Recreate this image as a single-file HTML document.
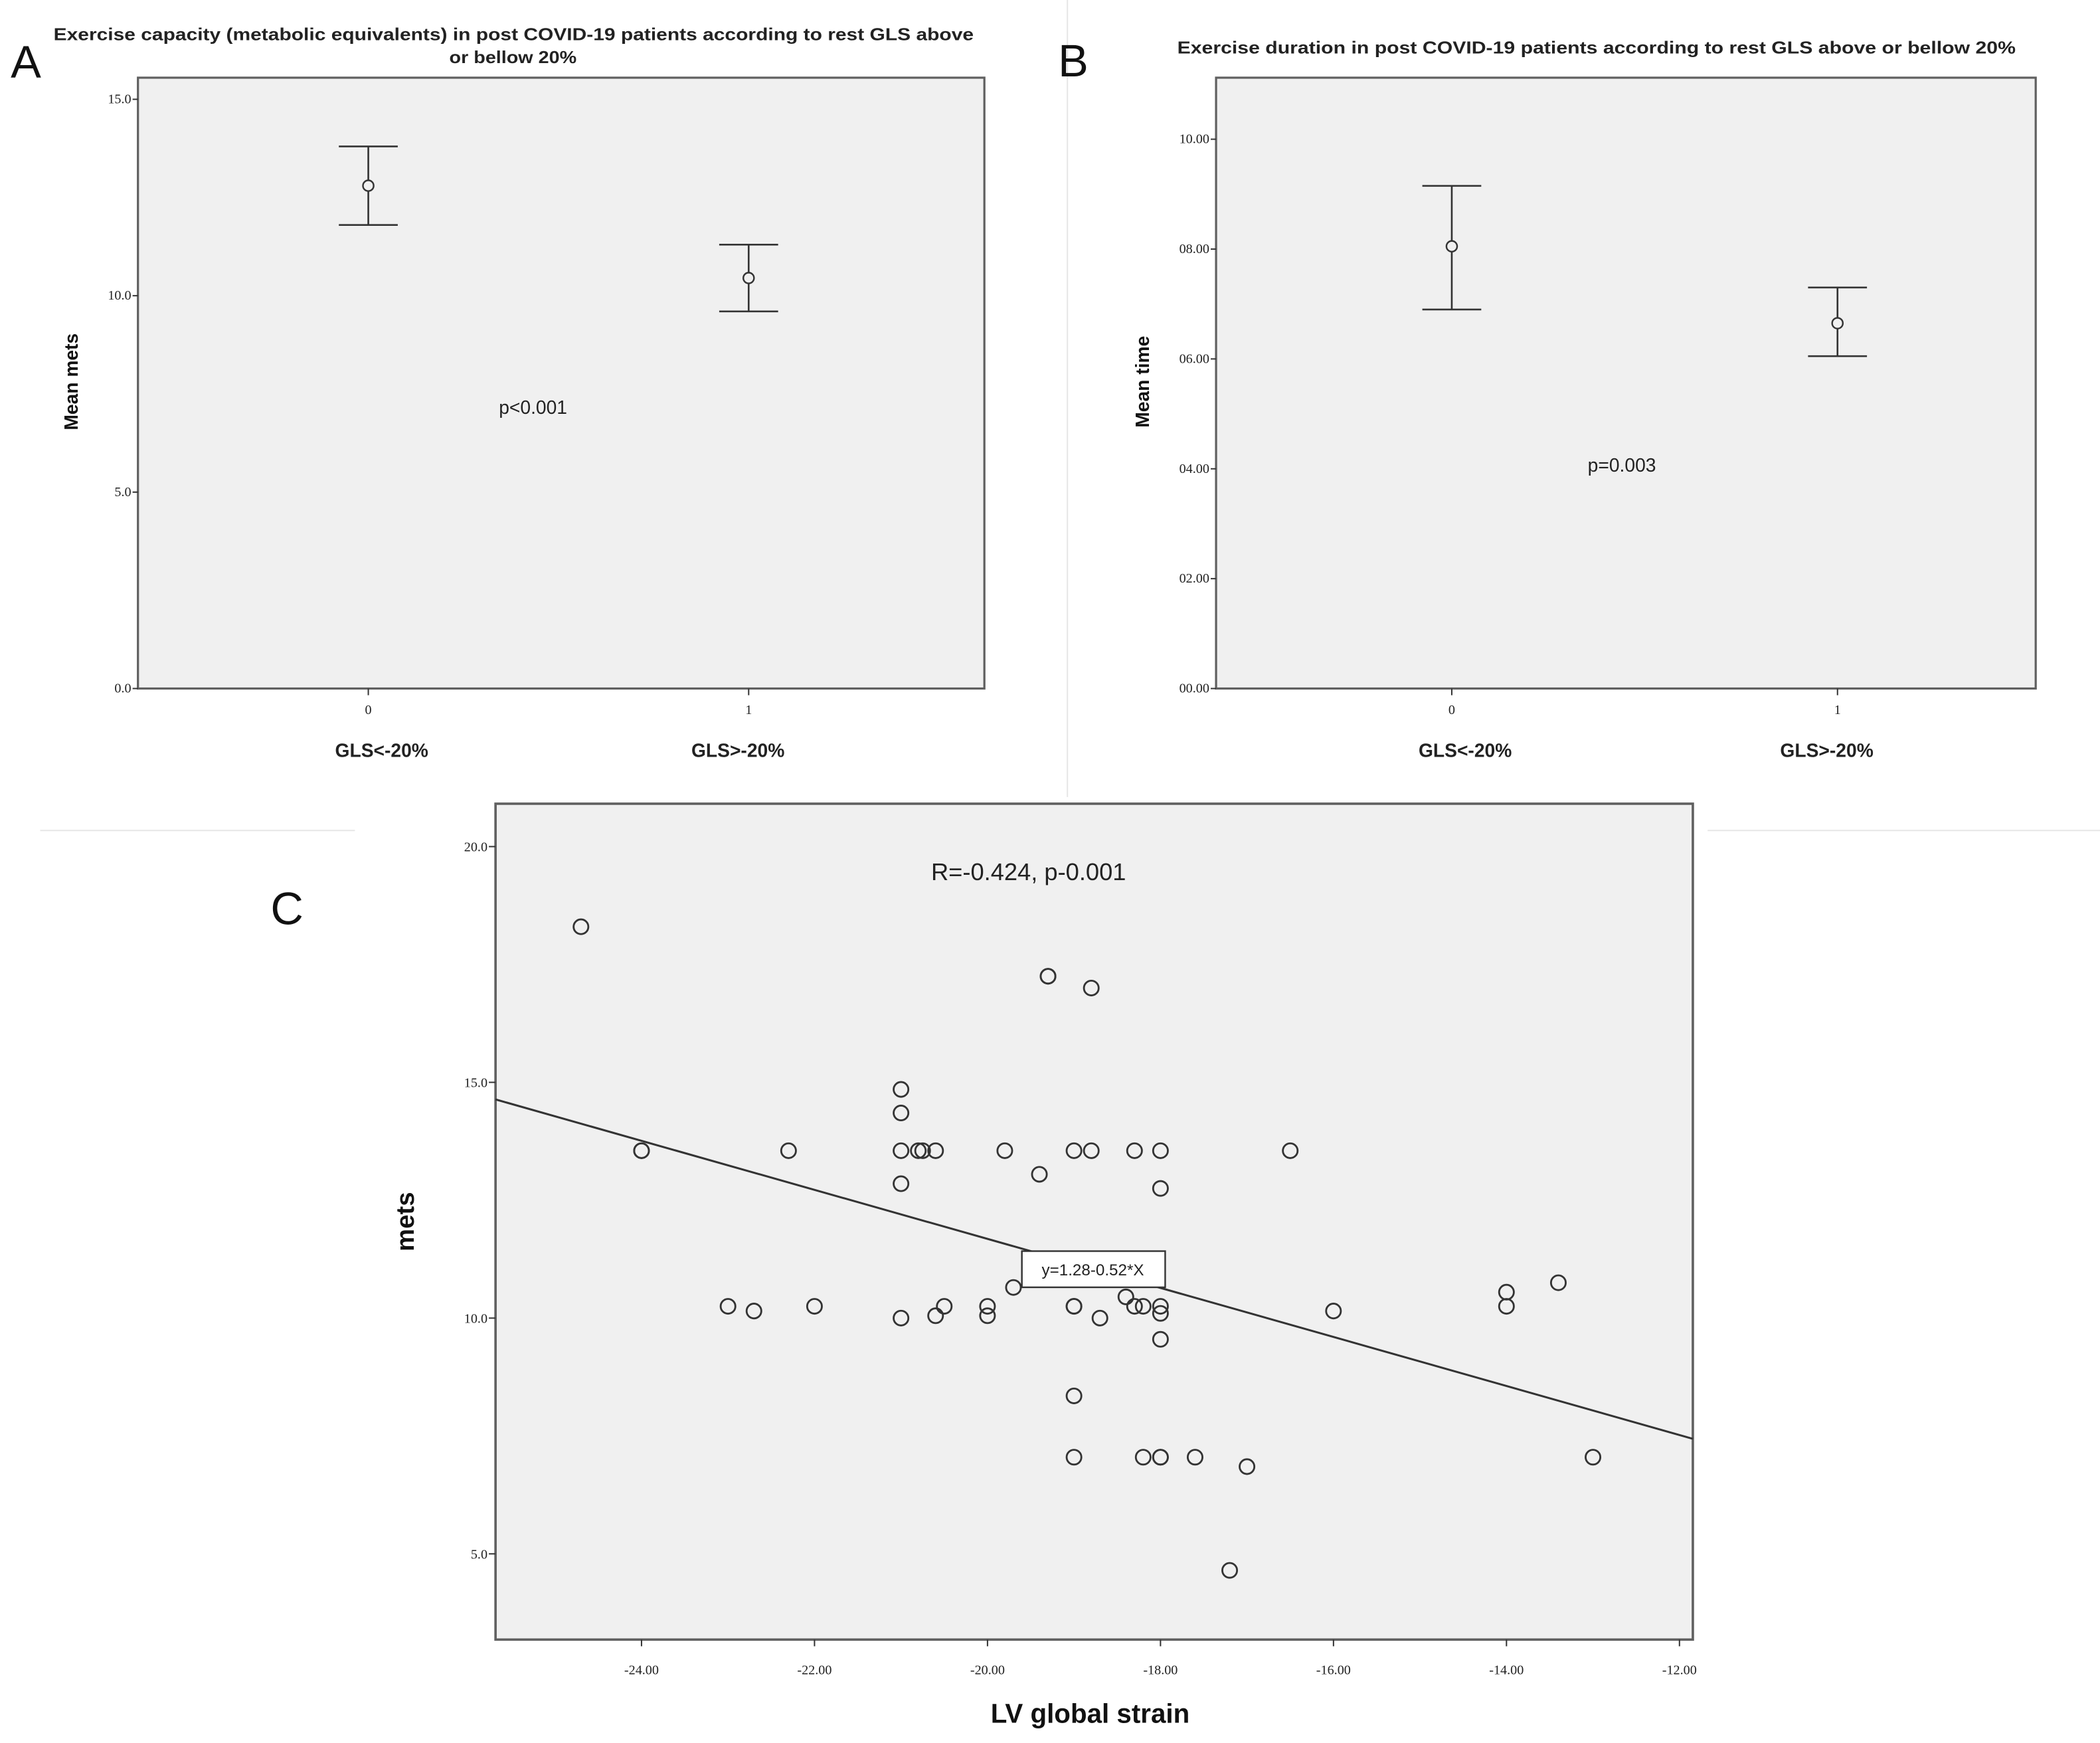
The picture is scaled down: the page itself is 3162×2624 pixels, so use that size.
<!DOCTYPE html>
<html><head><meta charset="utf-8"><style>
html,body{margin:0;padding:0;background:#fff}
svg{display:block}
text{font-family:"Liberation Sans",sans-serif}
.tk{font-family:"Liberation Serif",serif;font-size:10px;fill:#222}
</style></head><body>
<svg id="fig" width="3162" height="2624" viewBox="0 0 1568 1301.2" preserveAspectRatio="none" xmlns="http://www.w3.org/2000/svg">
<rect width="1568" height="1301.2" fill="#fff"/>
<line x1="797" y1="0" x2="797" y2="595" stroke="#e6e6e6" stroke-width="1"/>
<line x1="30" y1="620" x2="265" y2="620" stroke="#e6e6e6" stroke-width="1"/>
<line x1="1275" y1="620" x2="1568" y2="620" stroke="#e6e6e6" stroke-width="1"/>
<g id="pa"></g>
<g id="pb"></g>
<g id="pc"></g>
</svg>
<script>
// Panel A data
const aCategories = ["0","1"];
const aGroupLabels = ["GLS<-20%","GLS>-20%"];
const aMeans = [12.8, 10.45];
const aUpper = [13.8, 11.3];
const aLower = [11.8, 9.6];
const aTicks = [0,5,10,15];
const aTickLabels = ["0.0","5.0","10.0","15.0"];
// Panel B data
const bCategories = ["0","1"];
const bGroupLabels = ["GLS<-20%","GLS>-20%"];
const bMeans = [8.05, 6.65];
const bUpper = [9.15, 7.3];
const bLower = [6.9, 6.05];
const bTicks = [0,2,4,6,8,10];
const bTickLabels = ["00.00","02.00","04.00","06.00","08.00","10.00"];
// Panel C data
const cX = [-24.7,-24,-24,-22.3,-23,-22.7,-22,-21,-21,-21,-21,-21,-20.8,-20.75,-20.6,-20.6,-20.5,-20,-20,-19.8,-19.7,-19.4,-19.3,-19.3,-19,-18.8,-18.8,-19,-19,-18.7,-19,-19,-18.4,-18.3,-18.2,-18.3,-18,-18,-18,-18,-18,-18.2,-18,-18,-17.6,-17,-17.2,-16.5,-16,-14,-14,-13.4,-13];
const cY = [18.3,13.55,13.55,13.55,10.25,10.15,10.25,14.85,14.35,13.55,12.85,10.0,13.55,13.55,13.55,10.05,10.25,10.25,10.05,13.55,10.65,13.05,17.25,17.25,13.55,13.55,17.0,10.25,10.25,10.0,8.35,7.05,10.45,10.25,10.25,13.55,13.55,12.75,10.25,10.1,9.55,7.05,7.05,7.05,7.05,6.85,4.65,13.55,10.15,10.55,10.25,10.75,7.05];
const cXTicks = [-24,-22,-20,-18,-16,-14,-12];
const cXTickLabels = ["-24.00","-22.00","-20.00","-18.00","-16.00","-14.00","-12.00"];
const cYTicks = [5,10,15,20];
const cYTickLabels = ["5.0","10.0","15.0","20.0"];
const cFit = [1.28, -0.52];

const NS="http://www.w3.org/2000/svg";
function mk(parent, tag, attrs, txt){
  const e=document.createElementNS(NS,tag);
  for(const k in attrs) e.setAttribute(k,attrs[k]);
  if(txt!==undefined) e.textContent=txt;
  parent.appendChild(e); return e;
}
function lin(d0,d1,r0,r1){return v=>r0+(v-d0)*(r1-r0)/(d1-d0);}

function errPanel(g, box, yMax, xPos, means, up, lo, ticks, tlabels, cats, glabels, pfx){
  const y=lin(0,yMax,box.y1,box.y0);
  const bg=mk(g,'rect',{x:box.x0,y:box.y0,width:box.x1-box.x0,height:box.y1-box.y0,fill:'#f0f0f0',stroke:'#606060','stroke-width':1.6});
  
  
  ticks.forEach((t,i)=>{
    const yy=y(t);
    const l=mk(g,'line',{x1:box.x0-4,y1:yy,x2:box.x0,y2:yy,stroke:'#333','stroke-width':1});
    
    
    const tx=mk(g,'text',{x:box.x0-5,y:yy+3,'text-anchor':'end',class:'tk'},tlabels[i]);
    
    
  });
  cats.forEach((c,i)=>{
    const xx=xPos[i];
    const l=mk(g,'line',{x1:xx,y1:box.y1,x2:xx,y2:box.y1+5,stroke:'#333','stroke-width':1});
    
    
    const tx=mk(g,'text',{x:xx,y:box.y1+19,'text-anchor':'middle',class:'tk'},c);
    
    
    const gl=mk(g,'text',{x:xx+(i==0?10:-8),y:box.y1+51,'text-anchor':'middle','font-size':14,'font-weight':'bold',fill:'#222'},glabels[i]);
    
    
    const eb=mk(g,'g',{stroke:'#333','stroke-width':1.3,fill:'none'});
    
    
    mk(eb,'line',{x1:xx,y1:y(up[i]),x2:xx,y2:y(lo[i])});
    mk(eb,'line',{x1:xx-22,y1:y(up[i]),x2:xx+22,y2:y(up[i])});
    mk(eb,'line',{x1:xx-22,y1:y(lo[i]),x2:xx+22,y2:y(lo[i])});
    const m=mk(g,'circle',{cx:xx,cy:y(means[i]),r:4,fill:'#f0f0f0',stroke:'#333','stroke-width':1.2});
    
    
  });
}

const pa=document.getElementById('pa');
errPanel(pa,{x0:103,x1:735,y0:58,y1:514},15.55,[275,559],aMeans,aUpper,aLower,aTicks,aTickLabels,aCategories,aGroupLabels,'a');
const pb=document.getElementById('pb');
errPanel(pb,{x0:908,x1:1520,y0:58,y1:514},11.12,[1084,1372],bMeans,bUpper,bLower,bTicks,bTickLabels,bCategories,bGroupLabels,'b');

function txt(g,attrs,s,name){const t=mk(g,'text',attrs,s);return t;}
txt(pa,{x:8,y:58,'font-size':34,fill:'#111'},'A','panel-a-letter');
txt(pa,{x:40,y:30,'font-size':13,'font-weight':'bold',fill:'#222',textLength:687,lengthAdjust:'spacingAndGlyphs'},'Exercise capacity (metabolic equivalents) in post COVID-19 patients according to rest GLS above','panel-a-title');
txt(pa,{x:383,y:47,'font-size':13,'font-weight':'bold',fill:'#222','text-anchor':'middle',textLength:95,lengthAdjust:'spacingAndGlyphs'},'or bellow 20%','panel-a-title-line2');
txt(pa,{x:398,y:309,'font-size':14,'font-family':'Liberation Serif',fill:'#222','text-anchor':'middle'},'p<0.001','panel-a-p-value');
txt(pa,{x:0,y:0,'font-size':14,'font-weight':'bold',fill:'#111','text-anchor':'middle',transform:'translate(58,285) rotate(-90)'},'Mean mets','panel-a-y-axis-title');

txt(pb,{x:790,y:57,'font-size':34,fill:'#111'},'B','panel-b-letter');
txt(pb,{x:879,y:40,'font-size':13,'font-weight':'bold',fill:'#222',textLength:626,lengthAdjust:'spacingAndGlyphs'},'Exercise duration in post COVID-19 patients according to rest GLS above or bellow 20%','panel-b-title');
txt(pb,{x:1211,y:352,'font-size':14,'font-family':'Liberation Serif',fill:'#222','text-anchor':'middle'},'p=0.003','panel-b-p-value');
txt(pb,{x:0,y:0,'font-size':14,'font-weight':'bold',fill:'#111','text-anchor':'middle',transform:'translate(858,285) rotate(-90)'},'Mean time','panel-b-y-axis-title');

// Panel C
const pc=document.getElementById('pc');
const cb={x0:370,x1:1264,y0:600,y1:1224};
const cx=lin(-24,-12,479,1254), cy=lin(10,20,984,632);
const xmin=-24+(cb.x0-479)/((1254-479)/12), xmax=-24+(cb.x1-479)/((1254-479)/12);
const cbg=mk(pc,'rect',{x:cb.x0,y:cb.y0,width:cb.x1-cb.x0,height:cb.y1-cb.y0,fill:'#f0f0f0',stroke:'#606060','stroke-width':1.8});


cYTicks.forEach((t,i)=>{
  const yy=cy(t);
  const l=mk(pc,'line',{x1:cb.x0-5,y1:yy,x2:cb.x0,y2:yy,stroke:'#333','stroke-width':1});
  
  
  txt(pc,{x:cb.x0-6,y:yy+3.5,'text-anchor':'end',class:'tk','font-size':11},cYTickLabels[i],'c-y-tick-label');
});
cXTicks.forEach((t,i)=>{
  const xx=cx(t);
  const l=mk(pc,'line',{x1:xx,y1:cb.y1,x2:xx,y2:cb.y1+5,stroke:'#333','stroke-width':1});
  
  
  txt(pc,{x:xx,y:cb.y1+26,'text-anchor':'middle',class:'tk','font-size':11},cXTickLabels[i],'c-x-tick-label');
});
const fl=mk(pc,'line',{x1:cb.x0,y1:cy(cFit[0]+cFit[1]*xmin),x2:cb.x1,y2:cy(cFit[0]+cFit[1]*xmax),stroke:'#333','stroke-width':1.5});


cX.forEach((v,i)=>{
  const c=mk(pc,'circle',{cx:cx(v),cy:cy(cY[i]),r:5.5,fill:'none',stroke:'#333','stroke-width':1.4});
  
  
});
const eqb=mk(pc,'rect',{x:763,y:934,width:107,height:27,fill:'#fff',stroke:'#333','stroke-width':1.2});


txt(pc,{x:816,y:952,'font-size':12,'font-family':'Liberation Serif',fill:'#222','text-anchor':'middle'},'y=1.28-0.52*X','c-equation-label');
txt(pc,{x:768,y:657,'font-size':18,fill:'#222','text-anchor':'middle'},'R=-0.424, p-0.001','c-correlation-label');
txt(pc,{x:202,y:690,'font-size':34,fill:'#111'},'C','panel-c-letter');
txt(pc,{x:0,y:0,'font-size':19,'font-weight':'bold',fill:'#111','text-anchor':'middle',transform:'translate(309,912) rotate(-90)'},'mets','c-y-axis-title');
txt(pc,{x:814,y:1286,'font-size':20,'font-weight':'bold',fill:'#111','text-anchor':'middle'},'LV global strain','c-x-axis-title');
</script>
</body></html>
